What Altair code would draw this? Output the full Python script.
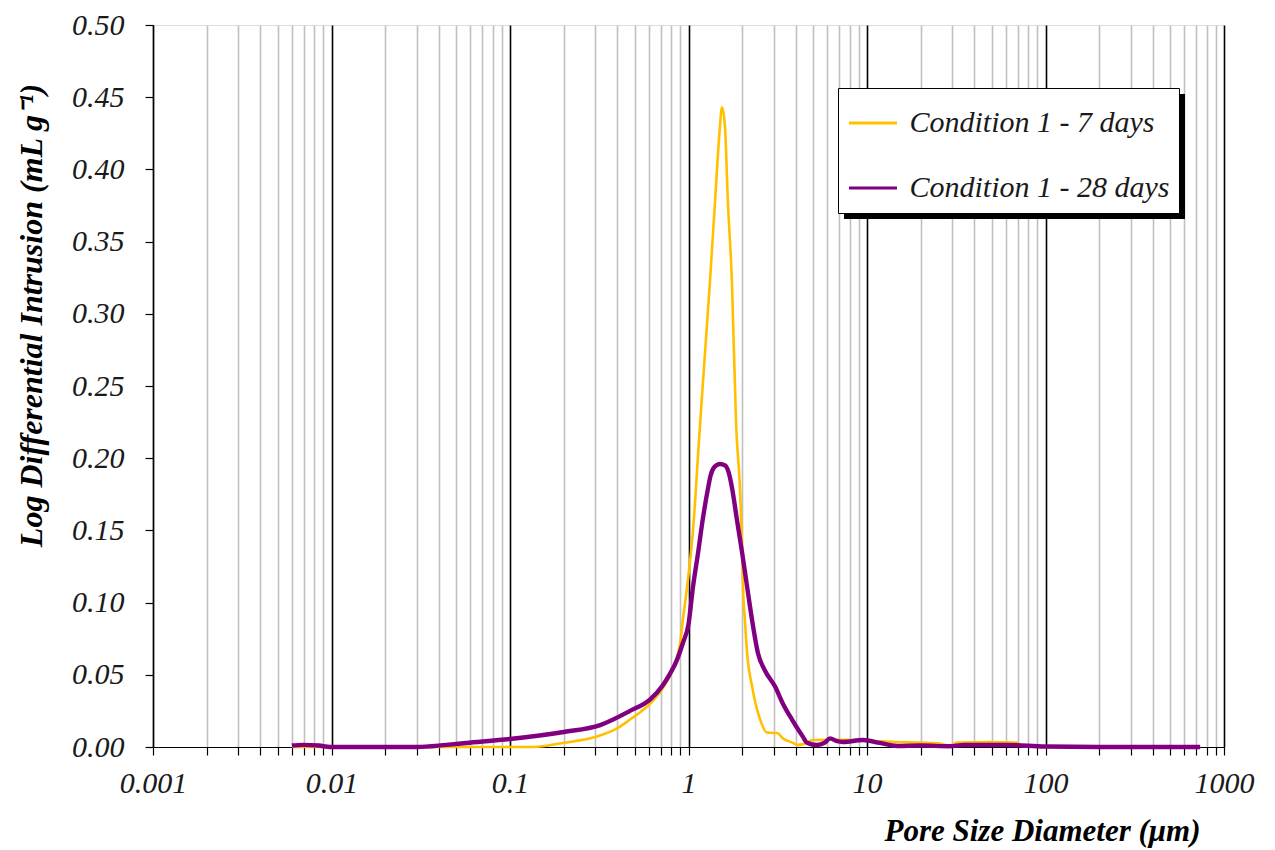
import altair as alt
import pandas as pd

# Pore size distribution (MIP): log differential intrusion vs pore diameter
LABEL_7 = "Condition 1 - 7 days"
LABEL_28 = "Condition 1 - 28 days"

diam_7 = [0.006, 0.0098, 0.03, 0.1, 0.135, 0.198, 0.307, 0.40, 0.47, 0.61, 0.72, 0.84,
          0.90, 0.93, 0.98, 1.06, 1.146, 1.19, 1.32, 1.41, 1.49, 1.54, 1.60, 1.66, 1.75,
          1.85, 1.94, 2.00, 2.02, 2.07, 2.13, 2.27, 2.52, 2.75, 3.0, 3.13, 3.38, 3.85,
          4.05, 4.4, 5.0, 6.2, 7.3, 9.5, 11.8, 14.7, 19.8, 25.0, 29.2, 32.0, 50.0, 69.0,
          75.0, 100.0, 735.0]
lid_7 = [0.0, 0.0, 0.0, 0.0, 0.0, 0.0028, 0.0072, 0.013, 0.019, 0.030, 0.041, 0.058,
         0.073, 0.088, 0.110, 0.150, 0.213, 0.243, 0.323, 0.379, 0.425, 0.443, 0.430, 0.379, 0.323,
         0.222, 0.180, 0.134, 0.111, 0.088, 0.065, 0.042, 0.019, 0.010, 0.0097, 0.0097, 0.006, 0.0028,
         0.0014, 0.002, 0.0048, 0.005, 0.005, 0.0045, 0.004, 0.0035, 0.003, 0.0025, 0.001, 0.003, 0.0035, 0.003,
         0.0005, 0.0, 0.0]

diam_28 = [0.006, 0.0069, 0.0085, 0.0098, 0.03, 0.044, 0.057, 0.1, 0.2, 0.32, 0.47, 0.61,
           0.72, 0.79, 0.86, 0.93, 1.0, 1.06, 1.13, 1.20, 1.29, 1.33, 1.40, 1.50, 1.60,
           1.68, 1.75, 1.87, 2.00, 2.13, 2.27, 2.45, 2.68, 3.05, 3.38, 3.80, 4.38, 4.61, 5.24,
           5.8, 6.21, 6.8, 7.34, 9.51, 11.8, 14.7, 20.0, 29.0, 35.0, 60.0, 100.0, 200.0, 735.0]
lid_28 = [0.001, 0.0015, 0.001, 0.0, 0.0, 0.0015, 0.0028, 0.0055, 0.0104, 0.0152, 0.025, 0.033,
          0.043, 0.051, 0.060, 0.072, 0.085, 0.111, 0.134, 0.157, 0.180, 0.188, 0.194, 0.196, 0.195,
          0.190, 0.180, 0.157, 0.134, 0.111, 0.088, 0.065, 0.053, 0.042, 0.030, 0.019, 0.007, 0.003, 0.0014,
          0.003, 0.006, 0.004, 0.0035, 0.0048, 0.0028, 0.0007, 0.001, 0.0005, 0.0014, 0.0014, 0.0003, 0.0, 0.0]

series_labels = [LABEL_7, LABEL_28]
series_colors = ["#FFC000", "#800080"]

decades = [0.001, 0.01, 0.1, 1, 10, 100, 1000]
minor_ticks = [k * 10.0 ** e for e in range(-3, 3) for k in range(2, 10)]
tick_values = sorted(decades + minor_ticks)
y_ticks = [round(0.05 * i, 2) for i in range(11)]

df = pd.concat([
    pd.DataFrame({"d": diam_7, "v": lid_7, "series": LABEL_7}),
    pd.DataFrame({"d": diam_28, "v": lid_28, "series": LABEL_28}),
])

FONT = "Liberation Serif"
is_decade = "abs(log(datum.value)/LN10 - round(log(datum.value)/LN10)) < 0.000001"

x_enc = alt.X(
    "d:Q",
    scale=alt.Scale(type="log", domain=[0.001, 1000], nice=False),
    axis=alt.Axis(
        values=tick_values,
        format="~g",
        labelExpr=f"({is_decade}) ? datum.label : ''",
        labelOverlap=False,
        labelFlush=False,
        labelFont=FONT,
        labelFontStyle="italic",
        labelFontSize=30,
        labelColor="#1a1a1a",
        labelPadding=13,
        tickSize=8,
        tickColor="black",
        tickWidth=1.2,
        domainColor="black",
        domainWidth=1.2,
        grid=True,
        gridColor={"condition": {"test": is_decade, "value": "#000000"}, "value": "#c0c0c0"},
        gridWidth=1.6,
        title="Pore Size Diameter (μm)",
        titleFont=FONT,
        titleFontStyle="italic",
        titleFontWeight="bold",
        titleFontSize=31,
        titleColor="black",
        titleAlign="right",
        titleAnchor="end",
        titleBaseline="alphabetic",
        titleX=1047,
        titleY=93,
    ),
)

y_enc = alt.Y(
    "v:Q",
    scale=alt.Scale(domain=[0, 0.5], nice=False, zero=True),
    axis=alt.Axis(
        values=y_ticks,
        format=".2f",
        grid=False,
        labelFont=FONT,
        labelFontStyle="italic",
        labelFontSize=30,
        labelColor="#1a1a1a",
        labelPadding=21,
        tickSize=8,
        tickColor="black",
        tickWidth=1.2,
        domainColor="black",
        domainWidth=1.2,
        title="Log Differential Intrusion (mL g⁻¹)",
        titleFont=FONT,
        titleFontStyle="italic",
        titleFontWeight="bold",
        titleFontSize=32,
        titleColor="black",
        titleAngle=270,
        titleAlign="center",
        titleBaseline="middle",
        titleX=-122,
        titleY=290,
    ),
)

color_enc = alt.Color(
    "series:N",
    scale=alt.Scale(domain=series_labels, range=series_colors),
    legend=alt.Legend(
        title=None,
        orient="none",
        legendX=685,
        legendY=63,
        symbolType="stroke",
        symbolSize=2304,
        symbolStrokeWidth=3,
        labelFont=FONT,
        labelFontStyle="italic",
        labelFontSize=30,
        labelColor="#1a1a1a",
        labelOffset=11,
        labelLimit=400,
        rowPadding=24,
        padding=9.5,
        fillColor="white",
        strokeColor="black",
    ),
)

# drop shadow behind the legend box
shadow = alt.Chart(pd.DataFrame({"k": [0]})).mark_rect(color="black").encode(
    x=alt.value(691), x2=alt.value(1032), y=alt.value(69), y2=alt.value(194)
)

line_7 = alt.Chart(df).transform_filter(alt.datum.series == LABEL_7).mark_line(
    strokeWidth=2.6, interpolate="monotone"
).encode(x=x_enc, y=y_enc, color=color_enc)

line_28 = alt.Chart(df).transform_filter(alt.datum.series == LABEL_28).mark_line(
    strokeWidth=4.4, interpolate="monotone"
).encode(x=x_enc, y=y_enc, color=color_enc)

chart = alt.layer(shadow, line_7, line_28).properties(
    width=1071,
    height=722,
    padding={"left": 153, "top": 25, "right": 51, "bottom": 103},
    autosize=alt.AutoSizeParams(type="none"),
).configure_view(
    stroke="#9a9a9a", strokeWidth=1
).configure_legend(
    strokeWidth=1.5
).configure(background="white")

chart.save("out.html", embed_options={"renderer": "svg", "actions": False})
